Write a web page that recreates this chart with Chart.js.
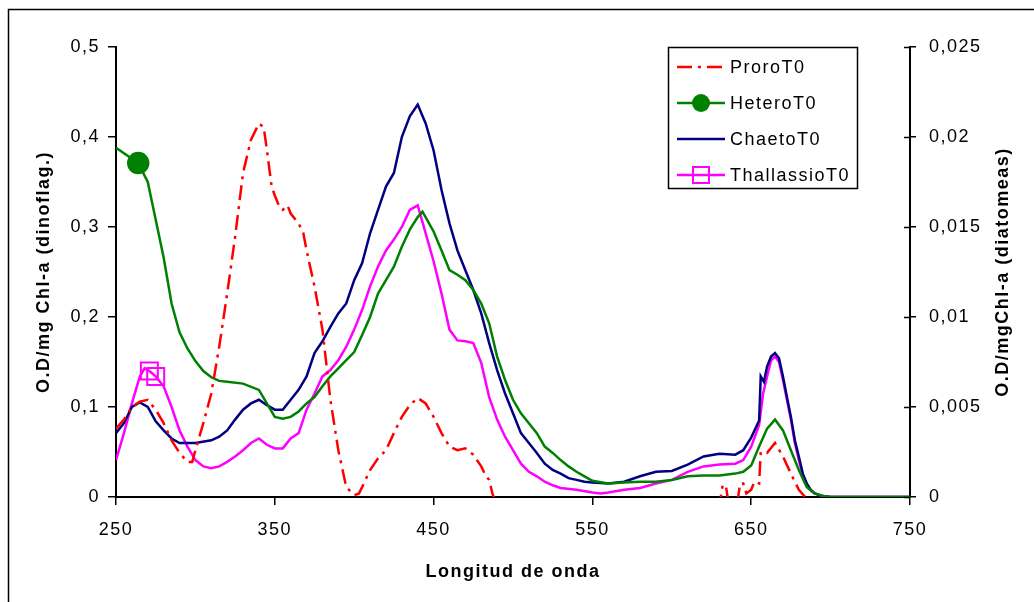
<!DOCTYPE html>
<html>
<head>
<meta charset="utf-8">
<title>Espectros de absorción</title>
<script src="https://cdn.jsdelivr.net/npm/chart.js@4"></script>
<style>
    html, body { margin: 0; padding: 0; background: #fff; }
    #wrap { width: 1034px; height: 602px; }
</style>
</head>
<body>
<div id="wrap"><canvas id="specChart" width="1034" height="602"></canvas></div>
<script>
// Absorption spectra at T0, O.D per mg Chl-a
// dinoflagellates on the left axis, diatoms on the right axis

const FONT = '"Liberation Sans", Arial, sans-serif';
const LETTER_SP = '1.5px';

const xTicks = [250, 350, 450, 550, 650, 750];
const leftTicks = [0, 0.1, 0.2, 0.3, 0.4, 0.5];
const rightTicks = [0, 0.005, 0.01, 0.015, 0.02, 0.025];

const seriesNames = ['ProroT0', 'HeteroT0', 'ChaetoT0', 'ThallassioT0'];

// ProroT0 (left axis)
const proroWl = [250, 255, 260, 265, 270, 275, 280, 285, 290, 295, 298, 300, 305, 310, 315, 320, 325, 330, 335, 340,
    343, 345, 348, 350, 353, 355, 358, 360, 365, 368, 370, 375, 380, 385, 390, 395, 400, 403, 405, 410,
    415, 420, 425, 430, 435, 440, 445, 450, 455, 460, 465, 470, 475, 480, 483, 485, 487, 490, 630, 632,
    634, 636, 641, 643, 645, 647, 650, 652, 655, 656, 660, 665, 670, 675, 680, 684, 686, 750];
const proroOD = [0.076, 0.086, 0.100, 0.106, 0.108, 0.097, 0.082, 0.063, 0.049, 0.039, 0.039, 0.052, 0.082, 0.115, 0.167, 0.226, 0.289, 0.360, 0.397, 0.415,
    0.411, 0.386, 0.345, 0.335, 0.322, 0.319, 0.324, 0.315, 0.304, 0.293, 0.274, 0.234, 0.186, 0.108, 0.052, 0.011, 0.002, 0.004, 0.011, 0.030,
    0.043, 0.052, 0.071, 0.089, 0.102, 0.110, 0.104, 0.089, 0.071, 0.056, 0.052, 0.054, 0.047, 0.034, 0.023, 0.019, 0.004, -0.01, -0.01, 0.013,
    0.013, -0.01, -0.01, 0.015, 0.015, 0.004, 0.008, 0.017, 0.015, 0.050, 0.049, 0.060, 0.045, 0.026, 0.008, 0.0, -0.01, -0.01];

// HeteroT0 (left axis)
const heteroWl = [250, 255, 260, 264, 270, 275, 280, 285, 290, 295, 300, 305, 310, 315, 320, 330, 340, 345, 350, 355,
    360, 365, 370, 375, 380, 385, 390, 395, 400, 405, 410, 415, 420, 425, 430, 435, 440, 443, 450, 455,
    460, 465, 470, 475, 480, 485, 490, 495, 500, 505, 510, 515, 520, 525, 530, 535, 540, 545, 550, 560,
    570, 580, 590, 600, 610, 620, 630, 640, 645, 650, 655, 660, 665, 670, 675, 680, 685, 690, 695, 700, 750];
const heteroOD = [0.388, 0.382, 0.376, 0.371, 0.350, 0.308, 0.266, 0.215, 0.183, 0.165, 0.151, 0.140, 0.133, 0.129, 0.128, 0.126, 0.119, 0.104, 0.089, 0.087,
    0.089, 0.095, 0.104, 0.111, 0.123, 0.134, 0.143, 0.152, 0.161, 0.180, 0.200, 0.226, 0.241, 0.256, 0.278, 0.297, 0.311, 0.317, 0.295, 0.274,
    0.252, 0.247, 0.241, 0.230, 0.215, 0.193, 0.156, 0.130, 0.108, 0.093, 0.082, 0.071, 0.056, 0.049, 0.041, 0.034, 0.028, 0.023, 0.018, 0.015,
    0.016, 0.017, 0.017, 0.019, 0.023, 0.024, 0.024, 0.026, 0.028, 0.035, 0.056, 0.076, 0.086, 0.074, 0.052, 0.030, 0.011, 0.004, 0.001, 0, 0];

// ChaetoT0 (right axis)
const chaetoWl = [250, 255, 260, 265, 270, 275, 280, 285, 290, 300, 310, 315, 320, 325, 330, 335, 340, 345, 350, 355,
    360, 365, 370, 375, 380, 385, 390, 395, 400, 405, 410, 415, 420, 425, 430, 435, 440, 445, 450, 455,
    460, 465, 470, 475, 480, 485, 490, 495, 500, 505, 510, 515, 520, 525, 530, 535, 540, 545, 550, 560,
    570, 580, 590, 600, 610, 620, 630, 640, 645, 650, 655, 656, 658, 660, 662.5, 665, 667.5, 670, 672.5, 675,
    677.5, 680, 682.5, 685, 687.5, 690, 695, 700, 750];
const chaetoOD = [0.00355, 0.0041, 0.0050, 0.00525, 0.0050, 0.0042, 0.0037, 0.00325, 0.0030, 0.0030, 0.00315, 0.00335, 0.0037, 0.0043, 0.00485, 0.0052, 0.0054, 0.0051, 0.00485, 0.00485,
    0.0054, 0.00595, 0.0067, 0.0080, 0.00865, 0.00945, 0.0102, 0.01075, 0.01205, 0.0130, 0.01465, 0.01595, 0.01725, 0.0180, 0.0200, 0.02115, 0.0218, 0.02075, 0.01925, 0.01705,
    0.0152, 0.0137, 0.0126, 0.0115, 0.0102, 0.00855, 0.00705, 0.00575, 0.00465, 0.00355, 0.0030, 0.00245, 0.00185, 0.0015, 0.0013, 0.00105, 0.00095, 0.00085, 0.0008, 0.00075,
    0.00085, 0.00115, 0.0014, 0.00145, 0.0018, 0.00225, 0.0024, 0.00235, 0.0026, 0.0033, 0.00425, 0.0067, 0.0064, 0.00725, 0.0078, 0.0080, 0.0077, 0.0067, 0.00555, 0.00445,
    0.00315, 0.00225, 0.0013, 0.00075, 0.0004, 0.0002, 0.00005, 0, 0];

// ThallassioT0 (right axis)
const thalWl = [250, 255, 260, 265, 268, 271, 275, 280, 285, 290, 295, 300, 305, 310, 315, 320, 325, 330, 335, 340,
    345, 350, 355, 360, 365, 370, 375, 380, 385, 390, 395, 400, 405, 410, 415, 420, 425, 430, 435, 440,
    445, 450, 455, 460, 465, 470, 475, 480, 485, 490, 495, 500, 505, 510, 515, 520, 525, 530, 540, 550,
    555, 560, 570, 580, 590, 600, 610, 620, 630, 640, 645, 650, 655, 657.5, 660, 662.5, 665, 667.5, 670, 672.5,
    675, 677.5, 680, 682.5, 685, 687.5, 690, 695, 700, 750];
const thalOD = [0.00205, 0.00355, 0.0052, 0.0067, 0.00715, 0.0070, 0.0067, 0.00615, 0.0050, 0.0037, 0.0028, 0.00205, 0.0017, 0.0016, 0.0017, 0.00195, 0.00225, 0.0026, 0.0030, 0.00325,
    0.0029, 0.0027, 0.0027, 0.00325, 0.00355, 0.00485, 0.00575, 0.0067, 0.00705, 0.0076, 0.00835, 0.0093, 0.0104, 0.0117, 0.0128, 0.0137, 0.0143, 0.0150, 0.01595, 0.0162,
    0.01465, 0.0131, 0.0113, 0.0093, 0.0087, 0.00865, 0.00855, 0.00745, 0.00555, 0.0043, 0.00335, 0.0026, 0.00185, 0.0014, 0.00115, 0.00085, 0.00065, 0.0005, 0.0004, 0.00025,
    0.0002, 0.00025, 0.0004, 0.0005, 0.00075, 0.00095, 0.0014, 0.0017, 0.0018, 0.00185, 0.00205, 0.0028, 0.0040, 0.00575, 0.0067, 0.0076, 0.0078, 0.0075, 0.0065, 0.0054,
    0.0043, 0.0030, 0.00205, 0.0012, 0.00065, 0.00035, 0.0002, 0.00005, 0, 0];

// wavelengths where Excel left a marker
const heteroMarkers = [264];
const thalMarkers = [271, 275];

const COLORS = { proro: '#ff0000', hetero: '#008000', chaeto: '#000080', thal: '#ff00ff' };

function toPoints(wl, vals) {
    return wl.map((x, i) => ({ x: x, y: vals[i] }));
}

function commaFmt(v) {
    return String(+v.toFixed(4)).replace('.', ',');
}

// extras drawn on the canvas: cross ticks, right title, legend, frame
const extrasPlugin = {
    id: 'extras',
    beforeLayout(chart) { chart.ctx.letterSpacing = LETTER_SP; },
    beforeDraw(chart) { chart.ctx.letterSpacing = LETTER_SP; },
    afterDraw(chart) {
        const ctx = chart.ctx;
        const area = chart.chartArea;
        const yR = chart.scales.yR;
        ctx.save();
        ctx.letterSpacing = LETTER_SP;

        // inner half of the right axis ticks
        ctx.strokeStyle = '#000';
        ctx.lineWidth = 1.5;
        rightTicks.forEach(v => {
            const y = Math.round(yR.getPixelForValue(v)) + 0.5;
            ctx.beginPath();
            ctx.moveTo(area.right - 6, y);
            ctx.lineTo(area.right, y);
            ctx.stroke();
        });

        // right axis title, reading bottom to top
        ctx.fillStyle = '#000';
        ctx.font = 'bold 18px ' + FONT;
        ctx.textAlign = 'center';
        ctx.textBaseline = 'middle';
        ctx.translate(area.right + 93, (area.top + area.bottom) / 2);
        ctx.rotate(-Math.PI / 2);
        ctx.fillText('O.D/mgChl-a (diatomeas)', 0, 0);
        ctx.setTransform(1, 0, 0, 1, 0, 0);

        // legend
        const lx = area.right - 242, ly = area.top, lw = 189, lh = 141;
        ctx.fillStyle = '#fff';
        ctx.fillRect(lx, ly, lw, lh);
        ctx.strokeStyle = '#000';
        ctx.lineWidth = 1.5;
        ctx.strokeRect(lx + 0.5, ly + 0.5, lw, lh);

        ctx.font = '18px ' + FONT;
        ctx.textAlign = 'left';
        ctx.textBaseline = 'middle';
        chart.data.datasets.forEach((ds, i) => {
            const y = ly + 20 + i * 36;
            const x0 = lx + 9, x1 = lx + 57, xm = (x0 + x1) / 2;
            ctx.strokeStyle = ds.borderColor;
            ctx.lineWidth = ds.borderWidth;
            ctx.setLineDash(ds.borderDash || []);
            ctx.beginPath();
            ctx.moveTo(x0, y);
            ctx.lineTo(x1, y);
            ctx.stroke();
            ctx.setLineDash([]);
            if (ds.legendMarker === 'circle') {
                ctx.fillStyle = ds.borderColor;
                ctx.beginPath();
                ctx.arc(xm, y, 9, 0, Math.PI * 2);
                ctx.fill();
            } else if (ds.legendMarker === 'rect') {
                ctx.lineWidth = 2;
                ctx.strokeRect(xm - 8, y - 8, 16, 16);
            }
            ctx.fillStyle = '#000';
            ctx.fillText(ds.label, x1 + 5, y + 1);
        });

        // picture frame
        ctx.strokeStyle = '#000';
        ctx.lineWidth = 1.5;
        ctx.beginPath();
        ctx.moveTo(8.5, chart.height);
        ctx.lineTo(8.5, 9.5);
        ctx.lineTo(chart.width, 9.5);
        ctx.stroke();
        ctx.restore();
    }
};

function initChart() {
    const canvasCtx = document.getElementById('specChart').getContext('2d');

    const axisFont = { family: FONT, size: 18 };
    const titleFont = { family: FONT, size: 18, weight: 'bold' };

    new Chart(canvasCtx, {
        type: 'line',
        data: {
            datasets: [{
                label: seriesNames[0],
                data: toPoints(proroWl, proroOD),
                yAxisID: 'yL',
                borderColor: COLORS.proro,
                borderWidth: 2.5,
                borderDash: [15, 6, 3, 6],
                pointRadius: 0
            }, {
                label: seriesNames[1],
                data: toPoints(heteroWl, heteroOD),
                yAxisID: 'yL',
                borderColor: COLORS.hetero,
                borderWidth: 2.5,
                legendMarker: 'circle',
                pointStyle: 'circle',
                pointBackgroundColor: COLORS.hetero,
                pointBorderColor: COLORS.hetero,
                pointRadius: c => heteroMarkers.includes(c.raw && c.raw.x) ? 10 : 0
            }, {
                label: seriesNames[2],
                data: toPoints(chaetoWl, chaetoOD),
                yAxisID: 'yR',
                borderColor: COLORS.chaeto,
                borderWidth: 2.5,
                pointRadius: 0
            }, {
                label: seriesNames[3],
                data: toPoints(thalWl, thalOD),
                yAxisID: 'yR',
                borderColor: COLORS.thal,
                borderWidth: 2.5,
                legendMarker: 'rect',
                pointStyle: 'rect',
                pointBackgroundColor: 'rgba(0,0,0,0)',
                pointBorderColor: COLORS.thal,
                pointBorderWidth: 2,
                pointRadius: c => thalMarkers.includes(c.raw && c.raw.x) ? 12 : 0
            }]
        },
        options: {
            responsive: false,
            animation: false,
            devicePixelRatio: 1,
            layout: { padding: { left: 0, right: 0, top: 47, bottom: 0 } },
            plugins: {
                legend: { display: false },
                tooltip: { enabled: false }
            },
            elements: { line: { tension: 0 } },
            scales: {
                x: {
                    type: 'linear',
                    min: xTicks[0],
                    max: xTicks[xTicks.length - 1],
                    afterBuildTicks: s => { s.ticks = xTicks.map(v => ({ value: v })); },
                    ticks: { color: '#000', font: axisFont, padding: 14, maxRotation: 0, callback: v => String(v) },
                    grid: { drawOnChartArea: false, tickLength: 8, color: '#000', lineWidth: 1.5 },
                    border: { color: '#000', width: 2 },
                    title: { display: true, text: 'Longitud de onda', color: '#000', font: titleFont, padding: { top: 0, bottom: 19 } },
                    afterFit: s => { s.height = 105; }
                },
                yL: {
                    type: 'linear',
                    position: 'left',
                    min: leftTicks[0],
                    max: leftTicks[leftTicks.length - 1],
                    afterBuildTicks: s => { s.ticks = leftTicks.map(v => ({ value: v })); },
                    ticks: { color: '#000', font: axisFont, padding: 8, callback: commaFmt },
                    grid: { drawOnChartArea: false, tickLength: 8, color: '#000', lineWidth: 1.5 },
                    border: { color: '#000', width: 2 },
                    title: { display: true, text: 'O.D/mg Chl-a (dinoflag.)', color: '#000', font: titleFont, padding: { top: 33, bottom: 0 } },
                    afterFit: s => { s.width = 116; }
                },
                yR: {
                    type: 'linear',
                    position: 'right',
                    min: rightTicks[0],
                    max: rightTicks[rightTicks.length - 1],
                    afterBuildTicks: s => { s.ticks = rightTicks.map(v => ({ value: v })); },
                    ticks: { color: '#000', font: axisFont, padding: 13, callback: commaFmt },
                    grid: { drawOnChartArea: false, tickLength: 6, color: '#000', lineWidth: 1.5 },
                    border: { color: '#000', width: 2 },
                    afterFit: s => { s.width = 124; }
                }
            }
        },
        plugins: [extrasPlugin]
    });
}

initChart();
</script>
</body>
</html>
